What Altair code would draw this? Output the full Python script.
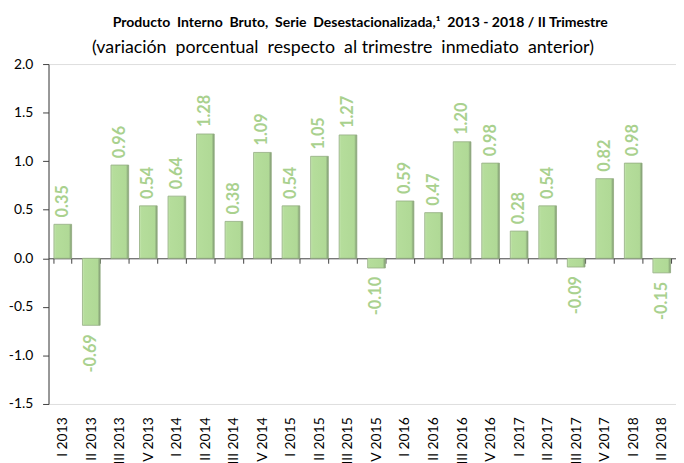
import altair as alt
import pandas as pd

quarters = ["I 2013", "II 2013", "III 2013", "IV 2013",
            "I 2014", "II 2014", "III 2014", "IV 2014",
            "I 2015", "II 2015", "III 2015", "IV 2015",
            "I 2016", "II 2016", "III 2016", "IV 2016",
            "I 2017", "II 2017", "III 2017", "IV 2017",
            "I 2018", "II 2018"]
values = [0.35, -0.69, 0.96, 0.54,
          0.64, 1.28, 0.38, 1.09,
          0.54, 1.05, 1.27, -0.10,
          0.59, 0.47, 1.20, 0.98,
          0.28, 0.54, -0.09, 0.82,
          0.98, -0.15]
y_ticks = [-1.5, -1.0, -0.5, 0.0, 0.5, 1.0, 1.5, 2.0]

NB = "\u00a0"
title_text = f"Producto {NB}Interno {NB}Bruto, {NB}Serie {NB}Desestacionalizada,¹ {NB}2013 - 2018 / II Trimestre"
subtitle_text = f"(variación {NB}porcentual {NB}respecto {NB}al trimestre {NB}inmediato {NB}anterior)"

df = pd.DataFrame({"q": quarters, "v": values})

FONT = "Lato"
W, H = 635, 344
Y_MIN, Y_MAX = -1.5, 2.0
zero_px = H * Y_MAX / (Y_MAX - Y_MIN)
below_zero = H - zero_px

x_enc = alt.X(
    "q:N", sort=quarters, title=None,
    scale=alt.Scale(paddingInner=0.38, paddingOuter=0.19),
    axis=alt.Axis(
        orient="bottom", offset=-below_zero, domain=True, domainColor="#404040",
        ticks=True, tickBand="extent", tickSize=5, tickColor="#404040",
        labelAngle=-90, labelAlign="right", labelBaseline="middle",
        labelPadding=below_zero + 13 - 5, labelFont=FONT, labelFontSize=14,
        labelColor="#000000", labelOverlap=False, labelFlush=False,
    ),
)
y_enc = alt.Y(
    "v:Q", title=None,
    scale=alt.Scale(domain=[Y_MIN, Y_MAX], nice=False, zero=False),
    axis=alt.Axis(
        values=y_ticks, format=".1f", grid=False, domain=True,
        labelExpr="replace(datum.label, '\u2212', '-')",
        domainColor="#404040", tickColor="#404040", tickSize=6,
        labelPadding=10, labelFont=FONT, labelFontSize=14, labelColor="#000000",
    ),
)

base = alt.Chart(df).transform_calculate(
    lbl="replace(format(datum.v, '.2f'), '\u2212', '-')"
)

bar_fill = alt.LinearGradient(
    gradient="linear", x1=0, x2=1, y1=0, y2=0,
    stops=[
        alt.GradientStop(color="#c6e6b1", offset=0),
        alt.GradientStop(color="#b5dd9b", offset=0.12),
        alt.GradientStop(color="#b0d996", offset=0.85),
        alt.GradientStop(color="#7d9670", offset=1),
    ],
)

bars = base.mark_bar(color=bar_fill, stroke="#93ad82", strokeWidth=0.8).encode(
    x=x_enc, y=y_enc
)

pos_labels = base.transform_filter("datum.v >= 0").mark_text(
    angle=270, align="left", baseline="middle", dx=7,
    font=FONT, fontSize=16.5, fontWeight="bold", color="#a9d18e",
).encode(x=alt.X("q:N", sort=quarters), y="v:Q", text="lbl:N")

neg_labels = base.transform_filter("datum.v < 0").mark_text(
    angle=270, align="right", baseline="middle", dx=-9,
    font=FONT, fontSize=16.5, fontWeight="bold", color="#a9d18e",
).encode(x=alt.X("q:N", sort=quarters), y="v:Q", text="lbl:N")

title = alt.Chart(pd.DataFrame({"t": [title_text]})).mark_text(
    align="center", baseline="alphabetic", font=FONT, fontSize=14.2,
    fontWeight="bold", color="#000000",
).encode(text="t:N", x=alt.value(315.5), y=alt.value(-37))

subtitle = alt.Chart(pd.DataFrame({"t": [subtitle_text]})).mark_text(
    align="center", baseline="alphabetic", font=FONT, fontSize=18,
    color="#000000",
).encode(text="t:N", x=alt.value(298), y=alt.value(-11))

chart = alt.layer(bars, pos_labels, neg_labels, title, subtitle).properties(
    width=W, height=H,
    autosize=alt.AutoSizeParams(type="none"),
    padding={"left": 41, "top": 54, "right": 0, "bottom": 57},
).configure_view(stroke=None).configure(background="white")

chart.save("out.html", embed_options={"renderer": "svg", "actions": False})
